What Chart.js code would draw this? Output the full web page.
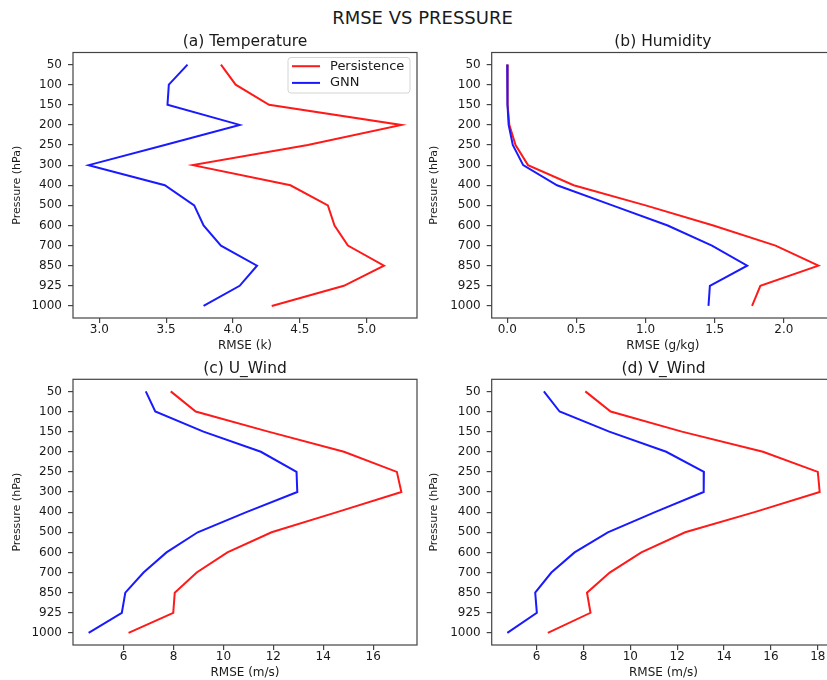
<!DOCTYPE html>
<html>
<head>
<meta charset="utf-8">
<title>RMSE VS PRESSURE</title>
<script src="https://cdn.jsdelivr.net/npm/chart.js@4.4.1/dist/chart.umd.min.js"></script>
<style>
  html, body { margin: 0; padding: 0; background: #fff; overflow: hidden; }
  body { width: 827px; height: 680px; position: relative; }
  canvas { position: absolute; }
  #suptitle {
    position: absolute; left: 0; top: 7px; width: 845px; line-height: 20px;
    text-align: center; font: 18px "DejaVu Sans", sans-serif; color: #1a1a1a;
  }
</style>
</head>
<body>
<div id="suptitle">RMSE VS PRESSURE</div>
<canvas id="temp"></canvas>
<canvas id="hum"></canvas>
<canvas id="uwind"></canvas>
<canvas id="vwind"></canvas>
<script>
// pressure levels, top of the profile first
const levels = ['50', '100', '150', '200', '250', '300', '400', '500', '600', '700', '850', '925', '1000'];

// RMSE per level
const tempPersistence = [3.91, 4.02, 4.27, 5.26, 4.56, 3.70, 4.43, 4.71, 4.76, 4.86, 5.13, 4.83, 4.29];
const tempGnn         = [3.66, 3.52, 3.51, 4.05, 3.49, 2.92, 3.49, 3.71, 3.78, 3.91, 4.18, 4.05, 3.78];

const humPersistence = [0.0, 0.0, 0.005, 0.015, 0.06, 0.15, 0.48, 1.00, 1.49, 1.94, 2.25, 1.83, 1.77];
const humGnn         = [0.0, 0.0, 0.003, 0.010, 0.04, 0.115, 0.36, 0.76, 1.16, 1.48, 1.735, 1.465, 1.455];

const uPersistence = [7.89, 8.89, 11.8, 14.83, 16.95, 17.13, 14.55, 11.93, 10.16, 8.93, 8.05, 7.99, 6.2];
const uGnn         = [6.89, 7.27, 9.2, 11.5, 12.93, 12.96, 10.92, 8.97, 7.72, 6.8, 6.07, 5.93, 4.6];

const vPersistence = [8.08, 9.16, 12.2, 15.66, 18.0, 18.08, 15.3, 12.34, 10.47, 9.12, 8.15, 8.3, 6.48];
const vGnn         = [6.31, 6.98, 9.1, 11.53, 13.14, 13.13, 11.05, 9.04, 7.62, 6.63, 5.94, 6.01, 4.75];

// x tick values per panel
const tempTicks = [3.0, 3.5, 4.0, 4.5, 5.0];
const humTicks = [0.0, 0.5, 1.0, 1.5, 2.0];
const uTicks = [6, 8, 10, 12, 14, 16];
const vTicks = [6, 8, 10, 12, 14, 16, 18];

Chart.defaults.font.family = '"DejaVu Sans", sans-serif';
Chart.defaults.color = '#1a1a1a';

const FONT = '"DejaVu Sans", sans-serif';
const AXIS_COLOR = '#444';

// box: canvas placement on the page, area: wanted plot rectangle (page px)
const panels = [
  { id: 'temp', title: '(a) Temperature', xTitle: 'RMSE (k)', persistence: tempPersistence, gnn: tempGnn,
    ticks: tempTicks, decimals: 1, legend: true,
    box: { x: 0, y: 28, w: 420, h: 325 }, area: { l: 73, t: 52.5, r: 417, b: 318 } },
  { id: 'hum', title: '(b) Humidity', xTitle: 'RMSE (g/kg)', persistence: humPersistence, gnn: humGnn,
    ticks: humTicks, decimals: 1,
    box: { x: 417, y: 28, w: 417, h: 325 }, area: { l: 491.7, t: 52.5, r: 834, b: 318 } },
  { id: 'uwind', title: '(c) U_Wind', xTitle: 'RMSE (m/s)', persistence: uPersistence, gnn: uGnn,
    ticks: uTicks, decimals: 0,
    box: { x: 0, y: 356, w: 420, h: 324 }, area: { l: 73, t: 379.3, r: 417, b: 645 } },
  { id: 'vwind', title: '(d) V_Wind', xTitle: 'RMSE (m/s)', persistence: vPersistence, gnn: vGnn,
    ticks: vTicks, decimals: 0,
    box: { x: 417, y: 356, w: 419, h: 324 }, area: { l: 491.7, t: 379.3, r: 835.3, b: 645 } }
];

// all four spines, drawn over the lines
const framePlugin = {
  id: 'frame',
  afterDatasetsDraw(chart) {
    const { ctx, chartArea: a } = chart;
    ctx.save();
    ctx.strokeStyle = AXIS_COLOR;
    ctx.lineWidth = 1.2;
    ctx.strokeRect(a.left, a.top, a.right - a.left, a.bottom - a.top);
    ctx.restore();
  }
};

// subplot title centred over the plot area
const panelTitlePlugin = {
  id: 'panelTitle',
  afterDraw(chart, args, opts) {
    const { ctx, chartArea: a } = chart;
    ctx.save();
    ctx.font = '15.5px ' + FONT;
    ctx.fillStyle = '#1a1a1a';
    ctx.textAlign = 'center';
    ctx.textBaseline = 'middle';
    ctx.fillText(opts.text, (a.left + a.right) / 2, a.top - 10.5);
    ctx.restore();
  }
};

// legend box in the upper right corner of the plot area
const insideLegendPlugin = {
  id: 'insideLegend',
  afterDraw(chart, args, opts) {
    if (!opts.display) return;
    const { ctx, chartArea: a } = chart;
    const w = 122, h = 35.5;
    const x = a.right - 7 - w, y = a.top + 5;
    ctx.save();
    ctx.beginPath();
    ctx.roundRect(x, y, w, h, 3);
    ctx.fillStyle = 'rgba(255,255,255,0.85)';
    ctx.fill();
    ctx.strokeStyle = '#d4d4d4';
    ctx.lineWidth = 1;
    ctx.stroke();
    ctx.font = '13px ' + FONT;
    ctx.textBaseline = 'middle';
    ctx.textAlign = 'left';
    chart.data.datasets.forEach((ds, i) => {
      const cy = y + 8.7 + i * 16.7;
      ctx.beginPath();
      ctx.moveTo(x + 4, cy);
      ctx.lineTo(x + 32, cy);
      ctx.strokeStyle = ds.borderColor;
      ctx.lineWidth = 2;
      ctx.stroke();
      ctx.fillStyle = '#1a1a1a';
      ctx.fillText(ds.label, x + 42, cy);
    });
    ctx.restore();
  }
};

function margins(values) {
  const lo = Math.min(...values), hi = Math.max(...values);
  const pad = (hi - lo) * 0.05;
  return { min: lo - pad, max: hi + pad };
}

function profile(values) {
  return values.map((v, i) => ({ x: v, y: i }));
}

panels.forEach(p => {
  const { box, area } = p;
  const canvas = document.getElementById(p.id);
  canvas.width = box.w;
  canvas.height = box.h;
  canvas.style.left = box.x + 'px';
  canvas.style.top = box.y + 'px';

  const range = margins(p.persistence.concat(p.gnn));
  const grid = { drawOnChartArea: false, drawTicks: true, tickLength: 5, color: AXIS_COLOR, lineWidth: 1.2 };

  new Chart(canvas, {
    type: 'line',
    data: {
      datasets: [
        // GNN gets the lower order so it is drawn on top
        { label: 'Persistence', data: profile(p.persistence), order: 1, borderColor: '#ff1a1a', borderWidth: 2, pointRadius: 0, tension: 0 },
        { label: 'GNN', data: profile(p.gnn), order: 0, borderColor: '#1a1aff', borderWidth: 2, pointRadius: 0, tension: 0 }
      ]
    },
    options: {
      responsive: false,
      animation: false,
      devicePixelRatio: 1,
      layout: {
        padding: { top: area.t - box.y, right: box.x + box.w - area.r, bottom: 0, left: 0 }
      },
      plugins: {
        legend: { display: false },
        tooltip: { enabled: false },
        panelTitle: { text: p.title },
        insideLegend: { display: !!p.legend }
      },
      scales: {
        x: {
          type: 'linear',
          min: range.min,
          max: range.max,
          afterBuildTicks: s => { s.ticks = p.ticks.map(v => ({ value: v })); },
          afterFit: s => { s.height = box.y + box.h - area.b; s.paddingLeft = 0; s.paddingRight = 0; },
          ticks: { autoSkip: false, maxRotation: 0, padding: 0, font: { size: 12 }, callback: v => v.toFixed(p.decimals) },
          grid: grid,
          border: { display: false },
          title: { display: true, text: p.xTitle, font: { size: 12 }, padding: { top: 0, bottom: 0 } }
        },
        y: {
          type: 'linear',
          reverse: true,
          min: -0.6,
          max: levels.length - 1 + 0.6,
          afterBuildTicks: s => { s.ticks = levels.map((_, i) => ({ value: i })); },
          afterFit: s => { s.width = area.l - box.x; s.paddingTop = 0; s.paddingBottom = 0; },
          ticks: { autoSkip: false, padding: 6, font: { size: 12 }, callback: v => levels[v] },
          grid: grid,
          border: { display: false },
          title: { display: true, text: 'Pressure (hPa)', font: { size: 11 }, padding: { top: 11, bottom: 0 } }
        }
      }
    },
    plugins: [framePlugin, panelTitlePlugin, insideLegendPlugin]
  });
});
</script>
</body>
</html>
